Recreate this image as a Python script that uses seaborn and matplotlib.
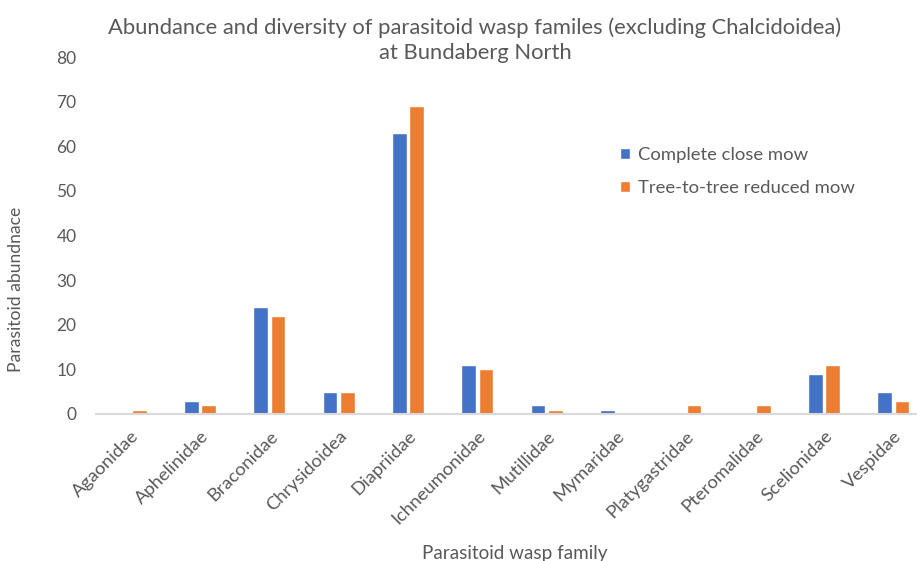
import matplotlib
matplotlib.use("Agg")
import matplotlib.pyplot as plt
import seaborn as sns
import pandas as pd

families = ["Agaonidae", "Aphelinidae", "Braconidae", "Chrysidoidea", "Diapriidae",
            "Ichneumonidae", "Mutillidae", "Mymaridae", "Platygastridae",
            "Pteromalidae", "Scelionidae", "Vespidae"]
complete_close = [0, 3, 24, 5, 63, 11, 2, 1, 0, 0, 9, 5]
tree_to_tree = [1, 2, 22, 5, 69, 10, 1, 0, 2, 2, 11, 3]
series = ["Complete close mow", "Tree-to-tree reduced mow"]
yticks = [0, 10, 20, 30, 40, 50, 60, 70, 80]

df = pd.DataFrame({
    "family": families * 2,
    "treatment": [series[0]] * len(families) + [series[1]] * len(families),
    "abundance": complete_close + tree_to_tree,
})

sns.set_theme(style="white")
plt.rcParams["font.family"] = ["Lato", "DejaVu Sans"]
grey = "#595959"

fig = plt.figure(figsize=(9.17, 5.61), dpi=100)
ax = fig.add_axes([96 / 917, 1 - 414 / 561, 832 / 917, (414 - 57) / 561])

sns.barplot(data=df, x="family", y="abundance", hue="treatment",
            palette=["#4472C4", "#ED7D31"], width=0.5, gap=0.15,
            ax=ax, saturation=1, legend=True)

ax.set_ylim(0, 80)
ax.set_yticks(yticks)
ax.set_xlim(-0.5, len(families) - 0.5)
for s in ["top", "right", "left"]:
    ax.spines[s].set_visible(False)
ax.spines["bottom"].set_color("#D9D9D9")
ax.spines["bottom"].set_linewidth(1.5)
ax.tick_params(axis="both", length=0, colors=grey)
ax.tick_params(axis="y", pad=14, labelsize=12.5)
ax.set_xticks(range(len(families)))
ax.set_xticklabels(families, rotation=45, ha="right", va="top",
                   rotation_mode="anchor", color=grey, fontsize=13.3)
ax.tick_params(axis="x", pad=10)

ax.set_ylabel("Parasitoid abundnace", color=grey, fontsize=12.6)
ax.yaxis.set_label_coords(-72 / 832, (414 - 289) / 357)
ax.set_xlabel("")
fig.text(515 / 917, 1 - 545 / 561, "Parasitoid wasp family",
         ha="center", va="top", color=grey, fontsize=13.6)

fig.text(475 / 917, 1 - 40 / 561,
         "Abundance and diversity of parasitoid wasp familes (excluding Chalcidoidea)\nat Bundaberg North",
         ha="center", va="center", color=grey, fontsize=15.8, linespacing=1.3)

leg = ax.legend(loc="upper left", bbox_to_anchor=((603 - 96) / 832, (414 - 130) / 357),
                frameon=False, fontsize=13.3, labelcolor=grey, handlelength=0.55,
                handleheight=0.55, handletextpad=0.45, labelspacing=0.95)

fig.savefig("out.png", dpi=100)
